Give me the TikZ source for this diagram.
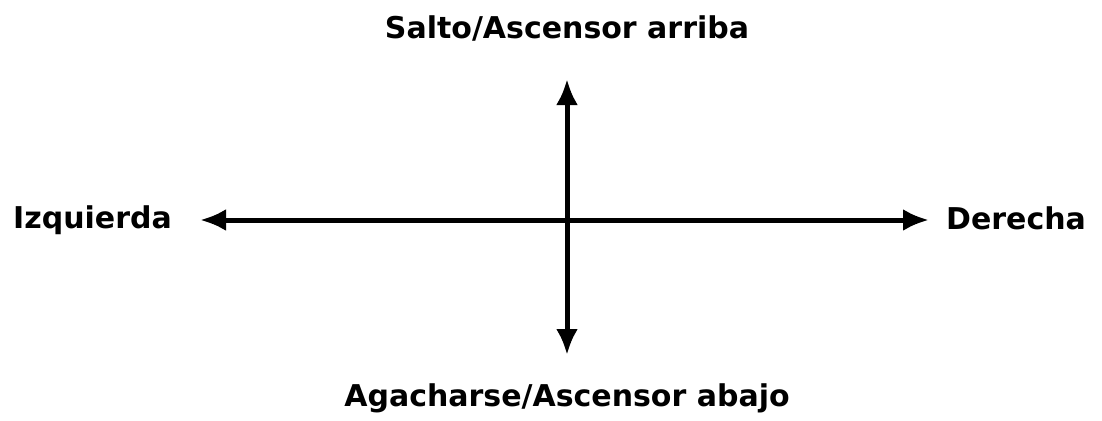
\documentclass[tikz,border=0pt]{standalone}
\usepackage{fontspec}
\usepackage{tikz}
\usetikzlibrary{arrows.meta,positioning}
\newfontfamily\lblfont{DejaVu Sans}

\begin{document}
\begin{tikzpicture}[
  x=1pt, y=-1pt,
  arr/.style={{Latex[length=26pt,width=22pt]}-{Latex[length=26pt,width=22pt]}, line width=5pt},
  lbl/.style={inner sep=0pt, font=\lblfont\bfseries\fontsize{30}{30}\selectfont},
]
\useasboundingbox (0,0) rectangle (1102,420);

% Arrow ends
\coordinate (l) at (200,220);
\coordinate (r) at (929,220);
\coordinate (t) at (567,79);
\coordinate (b) at (567,355);

% Labels
\node[lbl, anchor=base east] (izq) at (172,228) {Izquierda};
\node[lbl, anchor=base west] (der) at (946,229) {Derecha};
\node[lbl, anchor=base] (arriba) at (567,39) {Salto/Ascensor arriba};
\node[lbl, anchor=base] (abajo) at (567,406) {Agacharse/Ascensor abajo};

% Axes
\draw[arr] (l) -- (r);
\draw[arr] (b) -- (t);
\end{tikzpicture}
\end{document}
